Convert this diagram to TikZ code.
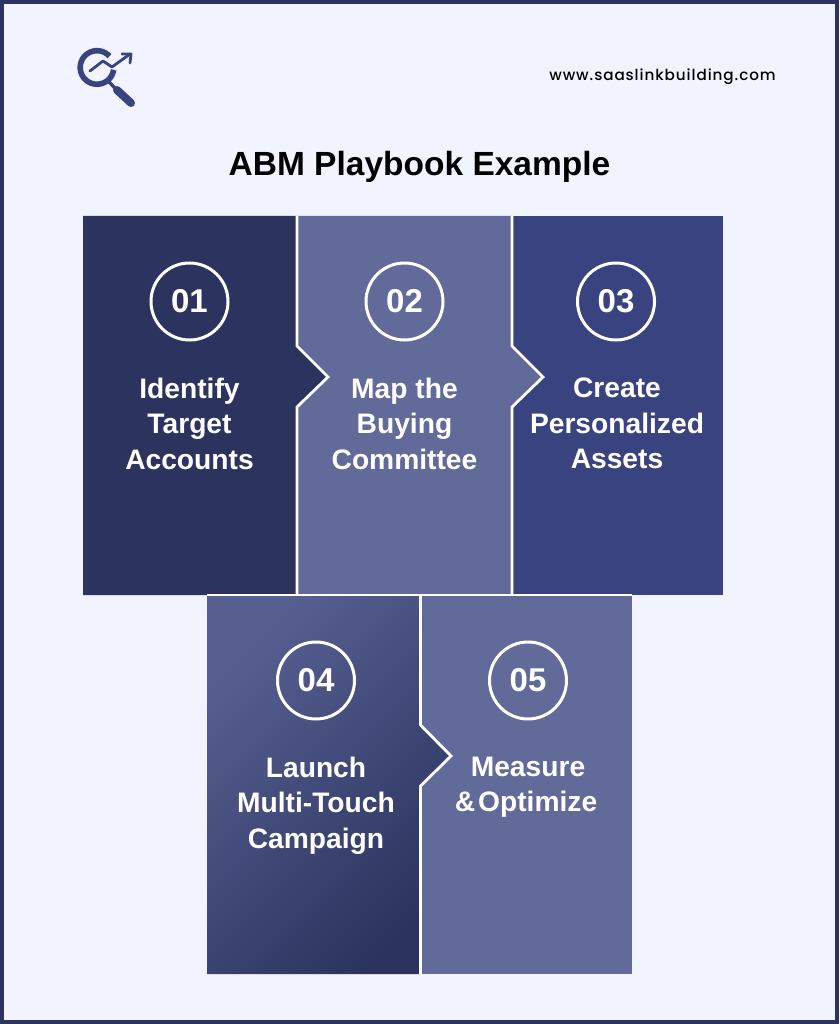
\documentclass[tikz,border=0pt]{standalone}
\usepackage{fontspec}
\setmainfont{Liberation Sans}
\newfontfamily\boldf{Liberation Sans Bold}
\newfontfamily\med[LetterSpace=6]{Poppins Medium}
\usetikzlibrary{calc}
\definecolor{bgc}{HTML}{F1F4FE}
\definecolor{edgec}{HTML}{2B335E}
\definecolor{midc}{HTML}{626A99}
\definecolor{bluec}{HTML}{39437F}
\definecolor{gradc}{HTML}{565F90}
\definecolor{logoc}{HTML}{39437F}
\tikzset{
  x=1pt,y=-1pt,
  sep/.style={draw=white,line width=2.8pt,line join=miter},
  numring/.style={circle,draw=white,line width=3pt,minimum size=77pt,inner sep=0pt,text=white,font=\boldf\fontsize{33}{35}\selectfont},
  steptext/.style={align=center,text=white,font=\boldf\fontsize{28.2}{35.3}\selectfont,anchor=north},
  logoline/.style={draw=logoc,line cap=round,line join=round}
}
\begin{document}
\begin{tikzpicture}
\useasboundingbox (0,0) rectangle (839,1024);
\fill[edgec] (0,0) rectangle (839,1024);
\fill[bgc] (4,4) rectangle (835,1020);
% panels
\fill[midc] (297,216) rectangle (512,595);
\fill[bluec] (512,216) rectangle (723,595);
\fill[edgec] (83,216) -- (297,216) -- (297,346) -- (328,377) -- (297,407) -- (297,595) -- (83,595) -- cycle;
\fill[midc] (297,216) -- (512,216) -- (512,346) -- (543,377) -- (512,407) -- (512,595) -- (297,595) -- (297,407) -- (328,377) -- (297,346) -- cycle;
\fill[midc] (420.5,595) rectangle (632,974);
\shade[top color=gradc,bottom color=edgec,shading angle=45] (207,595) -- (420.5,595) -- (420.5,725) -- (451,756) -- (420.5,786) -- (420.5,974) -- (207,974) -- cycle;
% separators
\coordinate (s1t) at (297,216); \coordinate (s1a) at (297,346); \coordinate (s1p) at (328,377); \coordinate (s1b) at (297,407); \coordinate (s1e) at (297,595);
\coordinate (s2t) at (512,216); \coordinate (s2a) at (512,346); \coordinate (s2p) at (543,377); \coordinate (s2b) at (512,407); \coordinate (s2e) at (512,595);
\coordinate (s3t) at (420.5,595); \coordinate (s3a) at (420.5,725); \coordinate (s3p) at (451,756); \coordinate (s3b) at (420.5,786); \coordinate (s3e) at (420.5,974);
\coordinate (r1) at (207,595); \coordinate (r2) at (632,595);
\draw[sep] (s1t) -- (s1a) -- (s1p) -- (s1b) -- (s1e);
\draw[sep] (s2t) -- (s2a) -- (s2p) -- (s2b) -- (s2e);
\draw[sep] (s3t) -- (s3a) -- (s3p) -- (s3b) -- (s3e);
\draw[white,line width=1.6pt] (r1) -- (r2);
% rings
\node[numring] (n1) at (189.5,301.5) {01};
\node[numring] (n2) at (404.5,301.5) {02};
\node[numring] (n3) at (616,301.5) {03};
\node[numring] (n4) at (316,680.5) {04};
\node[numring] (n5) at (528,680.5) {05};
% step texts
\node[steptext] (t1) at (189.5,374.5) {Identify\\Target\\Accounts};
\node[steptext] (t2) at (404.5,374.5) {Map the\\Buying\\Committee};
\node[steptext] (t3) at (617,374.5) {Create\\Personalized\\Assets};
\node[steptext] (t4) at (316,753.5) {Launch\\Multi-Touch\\Campaign};
\node[steptext] (t5) at (528,753.5) {Measure\\\&\hspace{3pt}Optimize\kern4pt};
% title and site
\node[text=black,font=\boldf\fontsize{33.5}{38}\selectfont] (title) at (419.5,167) {ABM Playbook Example};
\node[text=black,font=\med\fontsize{15.2}{16}\selectfont] (site) at (662.5,77) {www.saaslinkbuilding.com};
% logo
\draw[logoline,line width=5.6pt,line cap=butt] (113.6,69.8) arc[start angle=8,end angle=318,radius=16.8];
\draw[logoline,line width=8pt] (117,90) -- (131,103);
\draw[logoline,line width=3.5pt,line cap=butt] (109,82) -- (117,90);
\draw[logoline,line width=2.8pt] (90,71) -- (103,61) -- (112,67) -- (130,54);
\draw[logoline,line width=2.8pt] (122,54) -- (131,54) -- (130,63);
\end{tikzpicture}
\end{document}
